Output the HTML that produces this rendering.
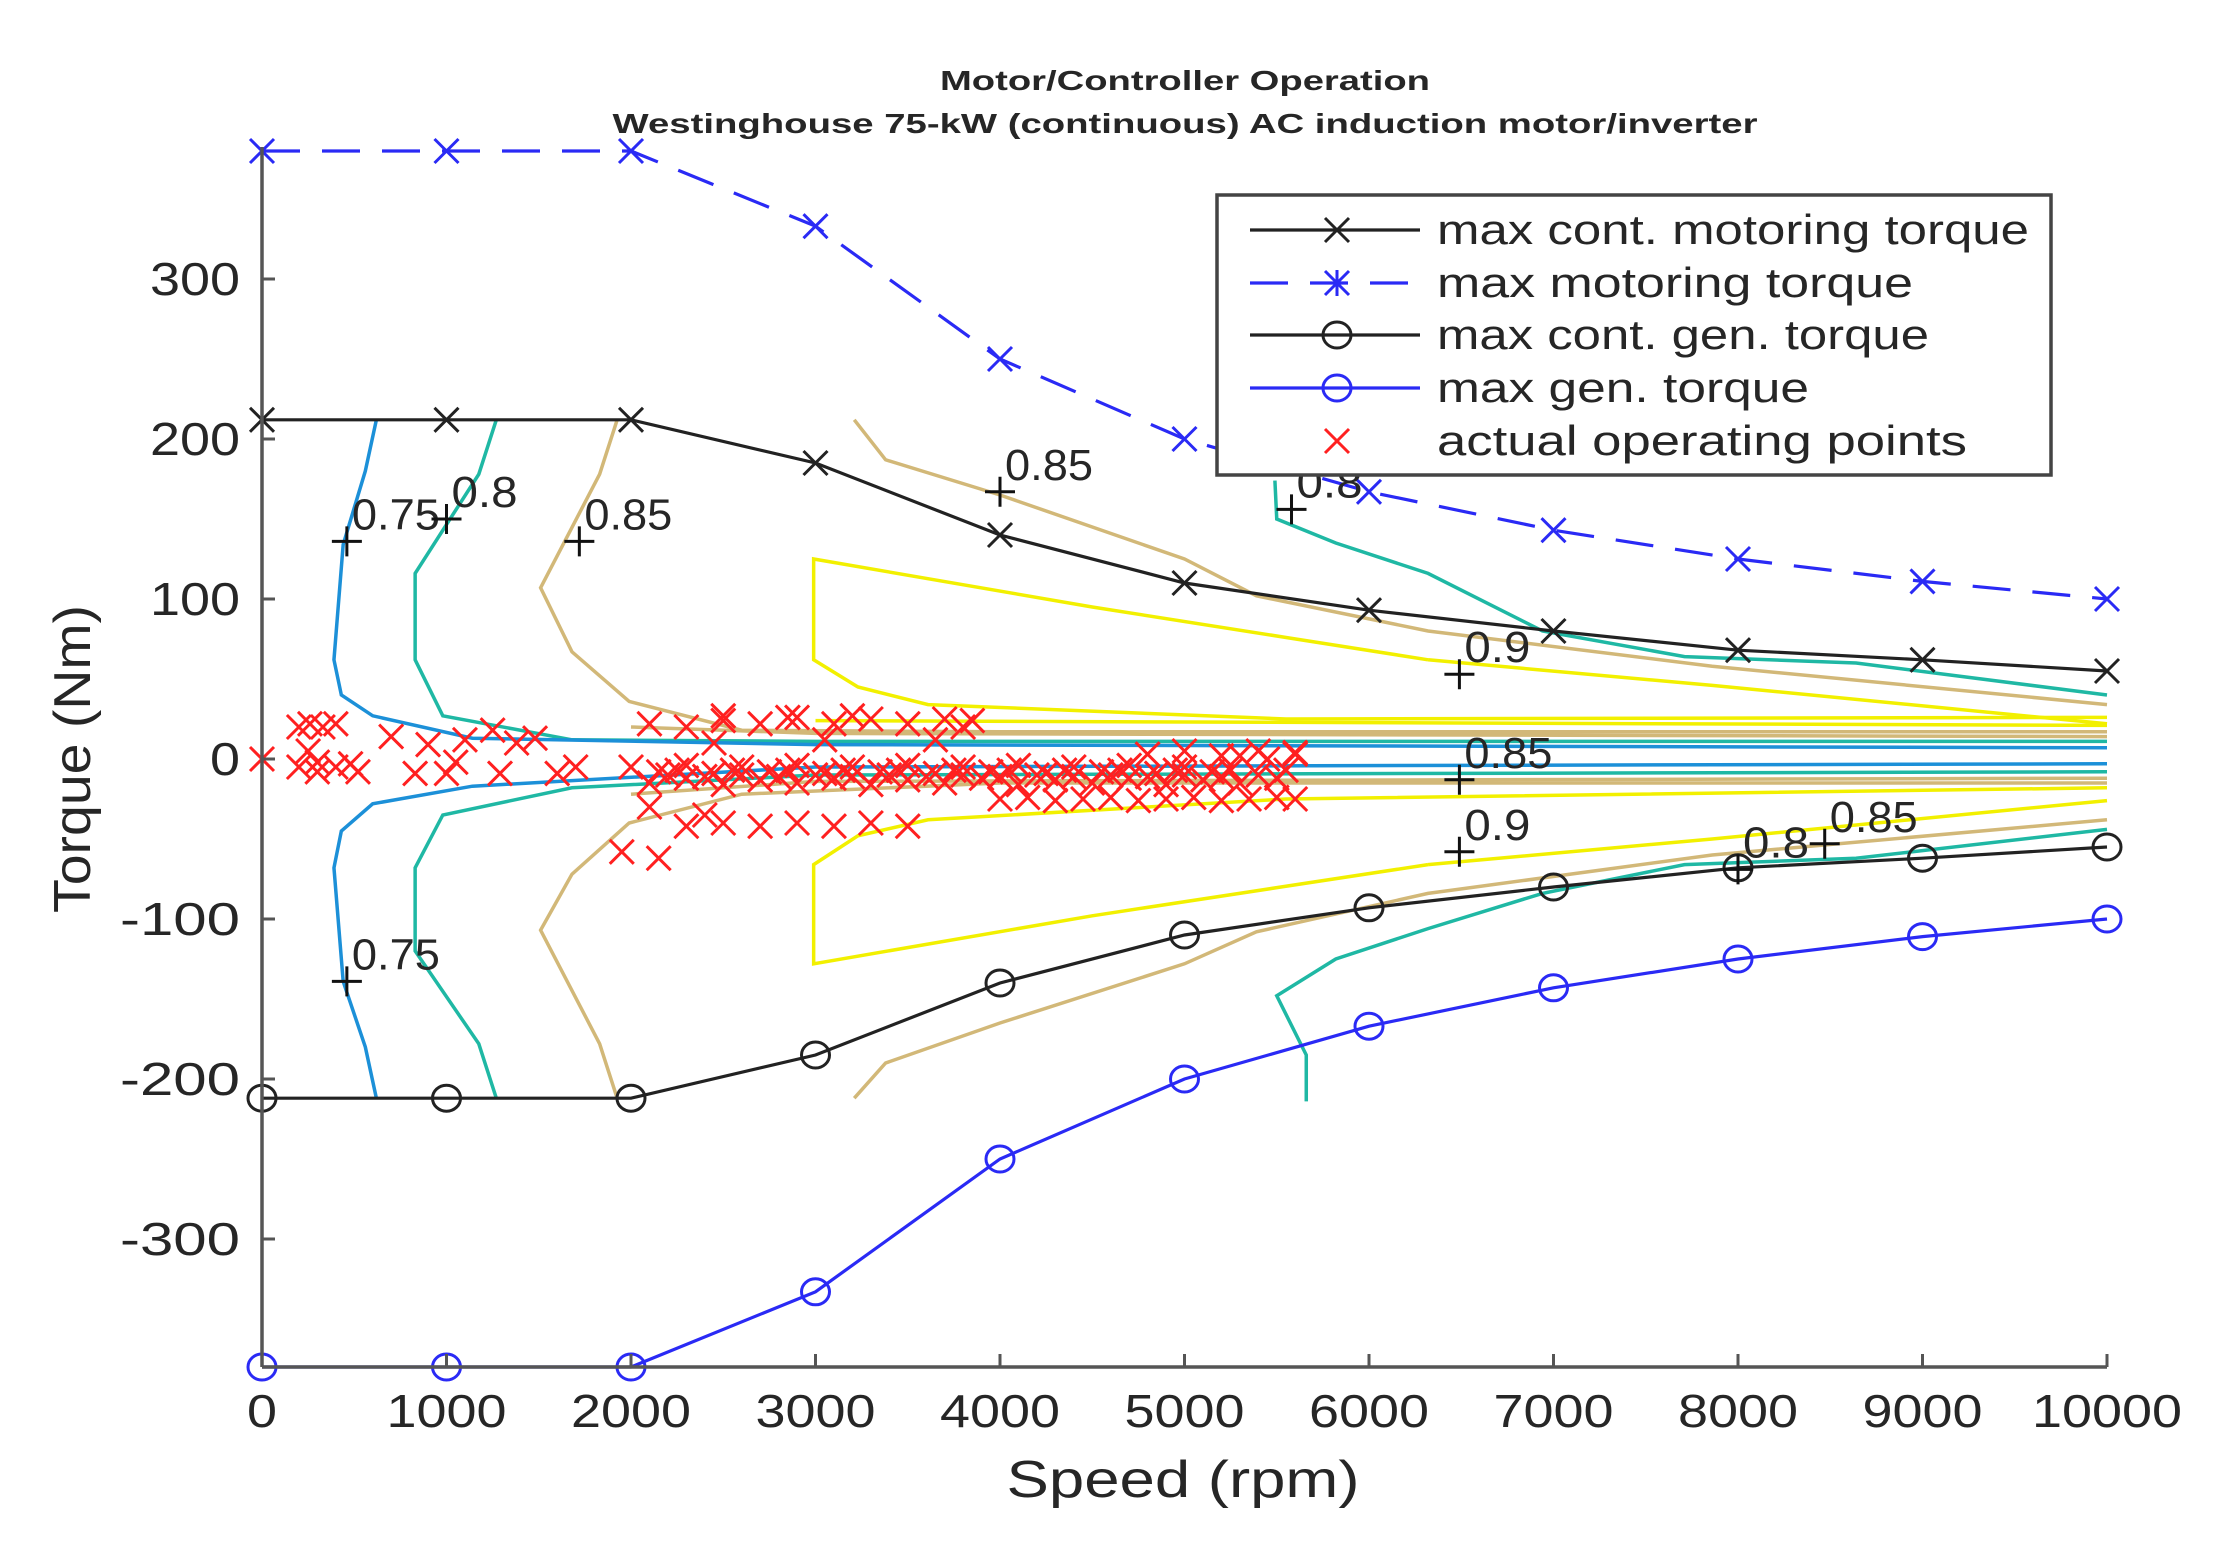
<!DOCTYPE html>
<html><head><meta charset="utf-8"><style>
html,body{margin:0;padding:0;background:#fff}
svg{display:block}
text{font-family:"Liberation Sans",sans-serif;fill:#262626}
</style></head><body>
<svg id="chart" width="2233" height="1556" viewBox="0 0 2233 1556" xmlns="http://www.w3.org/2000/svg">
<rect width="2233" height="1556" fill="#fff"/>
<g id="contours"></g>
<g id="points"></g>
<g id="series"></g>
<g id="axes"></g>
<g id="labels"></g>
<text x="1185" y="90" text-anchor="middle" font-size="28" font-weight="bold" textLength="490" lengthAdjust="spacingAndGlyphs">Motor/Controller Operation</text>
<text x="1185" y="133" text-anchor="middle" font-size="28" font-weight="bold" textLength="1145" lengthAdjust="spacingAndGlyphs">Westinghouse 75-kW (continuous) AC induction motor/inverter</text>
<text x="1183" y="1497" text-anchor="middle" font-size="52" textLength="353" lengthAdjust="spacingAndGlyphs">Speed (rpm)</text>
<text x="0" y="0" transform="translate(90,759) rotate(-90)" text-anchor="middle" font-size="52" textLength="308" lengthAdjust="spacingAndGlyphs">Torque (Nm)</text>
<g id="legend"></g>
</svg>
<script>
const speeds = [0,1000,2000,3000,4000,5000,6000,7000,8000,9000,10000];
const maxContMotoring = [212,212,212,185,140,110,93,80,68,62,55];
const maxMotoring = [380,380,380,333,250,200,167,143,125,111,100];
const maxContGen = [-212,-212,-212,-185,-140,-110,-93,-80,-68,-62,-55];
const maxGen = [-380,-380,-380,-333,-250,-200,-167,-143,-125,-111,-100];
const xTicks = [0,1000,2000,3000,4000,5000,6000,7000,8000,9000,10000];
const yTicks = [300,200,100,0,-100,-200,-300];
const yTickLabels = ["300","200","100","0","-100","-200","-300"];

const contourBlueUpper = [[620,212],[560,180],[440,134],[390,62],[430,40],[600,27],[1140,13],[3000,9],[10000,7]];
const contourBlueLower = [[620,-212],[560,-180],[440,-139],[390,-68],[430,-45],[600,-28],[1140,-17],[3000,-5],[10000,-3]];
const contourTealUpper = [[1270,212],[1175,178],[830,116],[830,62],[980,27],[1680,12],[3000,11],[10000,11]];
const contourTealLower = [[1270,-212],[1175,-178],[830,-120],[830,-68],[980,-35],[1680,-18],[3000,-10],[10000,-8]];
const contourTealRightUpper = [[5490,174],[5500,150],[5820,135],[6320,116],[6940,80],[7710,64],[8640,60],[10000,40]];
const contourTealRightLower = [[5660,-214],[5660,-185],[5500,-148],[5820,-125],[6320,-106],[6940,-84],[7710,-66],[8640,-62],[10000,-44]];
const contourTanUpper = [[1925,212],[1830,178],[1510,107],[1680,67],[1990,36],[2600,18],[4000,17],[10000,17]];
const contourTanUpper2 = [[2000,20],[3000,16],[10000,14]];
const contourTanLower = [[1925,-212],[1830,-178],[1510,-107],[1680,-72],[1990,-40],[2600,-22],[4000,-15],[10000,-15]];
const contourTanLower2 = [[2000,-22],[3000,-14],[10000,-12]];
const contourTanRightUpper = [[3210,212],[3380,187],[4000,165],[5000,125],[5390,102],[6320,80],[7860,58],[10000,34]];
const contourTanRightLower = [[3210,-212],[3380,-190],[4000,-165],[5000,-128],[5390,-108],[6320,-84],[7860,-60],[10000,-38]];
const contourYellowUpper = [[6320,62],[4500,95],[2990,125],[2990,62],[3230,45],[3610,34],[5550,25],[10000,26]];
const contourYellowUpper2 = [[6320,62],[7860,46],[10000,22]];
const contourYellowMid = [[3000,24],[10000,21]];
const contourYellowLower = [[6320,-66],[4500,-98],[2990,-128],[2990,-66],[3230,-48],[3610,-38],[5550,-25],[10000,-18]];
const contourYellowLower2 = [[6320,-66],[7860,-50],[10000,-26]];

const opSpeed = [0,200,260,330,400,200,300,400,520,250,900,1000,830,1290,1480,1600,1250,1100,700,
 2100,2300,2500,2700,2900,3100,3300,3500,3700,3850,2500,2850,3200,3800,
 2000,2150,2300,2450,2600,2750,2900,3050,3200,3350,3500,3650,3800,3950,4100,4250,4400,4550,4700,4850,5000,5150,5300,5450,5600,
 2100,2300,2500,2700,2900,3100,3300,3500,3700,3900,4100,4300,4500,4700,4900,5100,5300,5500,
 4000,4150,4300,4450,4600,4750,4900,5050,5200,5350,5500,5600,
 2300,2500,2700,2900,3100,3300,3500,2100,2400,
 1950,2150,4800,5000,5200,5400,5600,
 2200,2400,2600,2800,3000,3200,3400,3600,3800,4000,4200,4400,4600,4800,5000,5200,5400,
 2250,2550,2850,3150,3450,3750,4050,4350,4650,4950,5250,5550,
 300,480,1050,1380,1700,2450,3050,3650];
const opTorque = [0,20,22,20,22,-5,-8,-5,-8,5,9,-9,-9,-9,13,-9,18,12,14,
 22,20,24,22,26,22,25,22,25,24,27,26,27,20,
 -5,-8,-4,-9,-5,-8,-4,-9,-5,-8,-4,-9,-5,-8,-4,-9,-5,-8,-4,-9,-5,-8,2,0,3,
 -15,-12,-16,-13,-15,-12,-16,-13,-15,-12,-16,-13,-15,-12,-16,-13,-15,-12,
 -25,-24,-26,-25,-24,-26,-25,-24,-26,-25,-24,-25,
 -42,-40,-42,-40,-42,-40,-42,-30,-35,
 -58,-62,3,5,2,5,4,
 -10,-11,-10,-11,-10,-11,-10,-11,-10,-11,-10,-11,-10,-11,-10,-11,-10,
 -7,-7,-7,-7,-7,-7,-7,-7,-7,-7,-7,-7,
 -2,-3,-2,10,-5,10,12,12];

const contourLabelSpeed = [460,1000,1720,4000,5580,6490,6490,6490,8000,8470,460];
const contourLabelTorque = [136,150,136,167,156,53,-13,-58,-69,-53,-139];
const contourLabelText = ["0.75","0.8","0.85","0.85","0.8","0.9","0.85","0.9","0.8","0.85","0.75"];

const NS="http://www.w3.org/2000/svg";
function X(s){return 262 + s*0.1845;}
function Y(t){return 759 - t*1.6;}
const YBOT = Y(-380);
function mk(tag,attrs,parent){const e=document.createElementNS(NS,tag);for(const k in attrs)e.setAttribute(k,attrs[k]);parent.appendChild(e);return e;}

const gC=document.getElementById('contours');
function contour(pts,color,name){
  const p=mk('polyline',{points:pts.map(q=>X(q[0])+','+Y(q[1])).join(' '),fill:'none',stroke:color,'stroke-width':3.5},gC);
  
  
}
const BLUE='#1c90d8',TEAL='#1fb8a4',TAN='#d2b878',YEL='#f2f000';
contour(contourYellowUpper,YEL,'contour-0.9-upper');
contour(contourYellowUpper2,YEL,'contour-0.9-upper-outer');
contour(contourYellowMid,YEL,'contour-0.9-mid');
contour(contourYellowLower,YEL,'contour-0.9-lower');
contour(contourYellowLower2,YEL,'contour-0.9-lower-outer');
contour(contourTanUpper,TAN,'contour-0.85-upper');
contour(contourTanUpper2,TAN,'contour-0.85-upper-inner');
contour(contourTanLower,TAN,'contour-0.85-lower');
contour(contourTanLower2,TAN,'contour-0.85-lower-inner');
contour(contourTanRightUpper,TAN,'contour-0.85-right-upper');
contour(contourTanRightLower,TAN,'contour-0.85-right-lower');
contour(contourTealUpper,TEAL,'contour-0.8-upper');
contour(contourTealLower,TEAL,'contour-0.8-lower');
contour(contourTealRightUpper,TEAL,'contour-0.8-right-upper');
contour(contourTealRightLower,TEAL,'contour-0.8-right-lower');
contour(contourBlueUpper,BLUE,'contour-0.75-upper');
contour(contourBlueLower,BLUE,'contour-0.75-lower');

function xMark(g,cx,cy,r,color,w){
  mk('path',{d:`M${cx-r},${cy-r}L${cx+r},${cy+r}M${cx-r},${cy+r}L${cx+r},${cy-r}`,stroke:color,'stroke-width':w,fill:'none'},g);
}
const gP=document.getElementById('points');
for(let i=0;i<opSpeed.length;i++){
  const g=mk('g',{},gP);
  
  
  xMark(g,X(opSpeed[i]),Y(opTorque[i]),12,'#ff2020',3);
}

const gS=document.getElementById('series');
function series(vals,color,dash,marker,name){
  const g=mk('g',{},gS);
  
  
  const a={points:speeds.map((s,i)=>X(s)+','+Y(vals[i])).join(' '),fill:'none',stroke:color,'stroke-width':3.2};
  if(dash)a['stroke-dasharray']=dash;
  mk('polyline',a,g);
  speeds.forEach((s,i)=>{
    if(marker==='x') xMark(g,X(s),Y(vals[i]),12,color,3);
    else mk('ellipse',{cx:X(s),cy:Y(vals[i]),rx:14,ry:13,fill:'none',stroke:color,'stroke-width':3},g);
  });
}
series(maxContMotoring,'#222',null,'x','max-cont-motoring-line');
series(maxMotoring,'#2a2af5','38,22','x','max-motoring-line');
series(maxContGen,'#222',null,'o','max-cont-gen-line');
series(maxGen,'#2a2af5',null,'o','max-gen-line');

const gA=document.getElementById('axes');
const yax=mk('line',{x1:262,y1:147,x2:262,y2:YBOT,stroke:'#555','stroke-width':3.5},gA);


const xax=mk('line',{x1:262,y1:YBOT,x2:X(10000),y2:YBOT,stroke:'#555','stroke-width':3.5},gA);


xTicks.forEach(v=>{
  mk('line',{x1:X(v),y1:YBOT,x2:X(v),y2:YBOT-13,stroke:'#555','stroke-width':3},gA);
  const t=mk('text',{x:X(v),y:YBOT+60,'text-anchor':'middle','font-size':46,textLength:String(v).length*30,lengthAdjust:'spacingAndGlyphs'},gA);
  t.textContent=v;
  
  
});
yTicks.forEach((v,i)=>{
  mk('line',{x1:262,y1:Y(v),x2:275,y2:Y(v),stroke:'#555','stroke-width':3},gA);
  const t=mk('text',{x:240,y:Y(v)+16,'text-anchor':'end','font-size':46,textLength:yTickLabels[i].length*30,lengthAdjust:'spacingAndGlyphs'},gA);
  t.textContent=yTickLabels[i];
  
  
});

const gL=document.getElementById('labels');
for(let i=0;i<contourLabelText.length;i++){
  const cx=X(contourLabelSpeed[i]),cy=Y(contourLabelTorque[i]);
  mk('path',{d:`M${cx-15},${cy}L${cx+15},${cy}M${cx},${cy-15}L${cx},${cy+15}`,stroke:'#111','stroke-width':3},gL);
  const t=mk('text',{x:cx+5,y:cy-12,'font-size':44,fill:'#111',textLength:contourLabelText[i].length*22,lengthAdjust:'spacingAndGlyphs'},gL);
  t.textContent=contourLabelText[i];
  
  
}

const gLeg=document.getElementById('legend');
mk('rect',{x:1217,y:195,width:834,height:280,fill:'#fff',stroke:'#444','stroke-width':3.5},gLeg);
const legY=[230,283,335,388,441];
const legText=['max cont. motoring torque','max motoring torque','max cont. gen. torque','max gen. torque','actual operating points'];
const legLen=[592,476,492,372,530];
legText.forEach((s,i)=>{
  const g=mk('g',{},gLeg);
  
  
  const y=legY[i];
  if(i===0){mk('line',{x1:1250,y1:y,x2:1420,y2:y,stroke:'#222','stroke-width':3.2},g);xMark(g,1337,y,12,'#222',3);}
  if(i===1){mk('line',{x1:1250,y1:y,x2:1420,y2:y,stroke:'#2a2af5','stroke-width':3.2,'stroke-dasharray':'38,22'},g);xMark(g,1337,y,12,'#2a2af5',3);mk('line',{x1:1337,y1:y-13,x2:1337,y2:y+13,stroke:'#2a2af5','stroke-width':3},g);}
  if(i===2){mk('line',{x1:1250,y1:y,x2:1420,y2:y,stroke:'#222','stroke-width':3.2},g);mk('ellipse',{cx:1337,cy:y,rx:14,ry:13,fill:'none',stroke:'#222','stroke-width':3},g);}
  if(i===3){mk('line',{x1:1250,y1:y,x2:1420,y2:y,stroke:'#2a2af5','stroke-width':3.2},g);mk('ellipse',{cx:1337,cy:y,rx:14,ry:13,fill:'none',stroke:'#2a2af5','stroke-width':3},g);}
  if(i===4){xMark(g,1337,y,12,'#ff2020',3);}
  const t=mk('text',{x:1437,y:y+14,'font-size':42,textLength:legLen[i],lengthAdjust:'spacingAndGlyphs'},g);
  t.textContent=s;
});
</script>
</body></html>
